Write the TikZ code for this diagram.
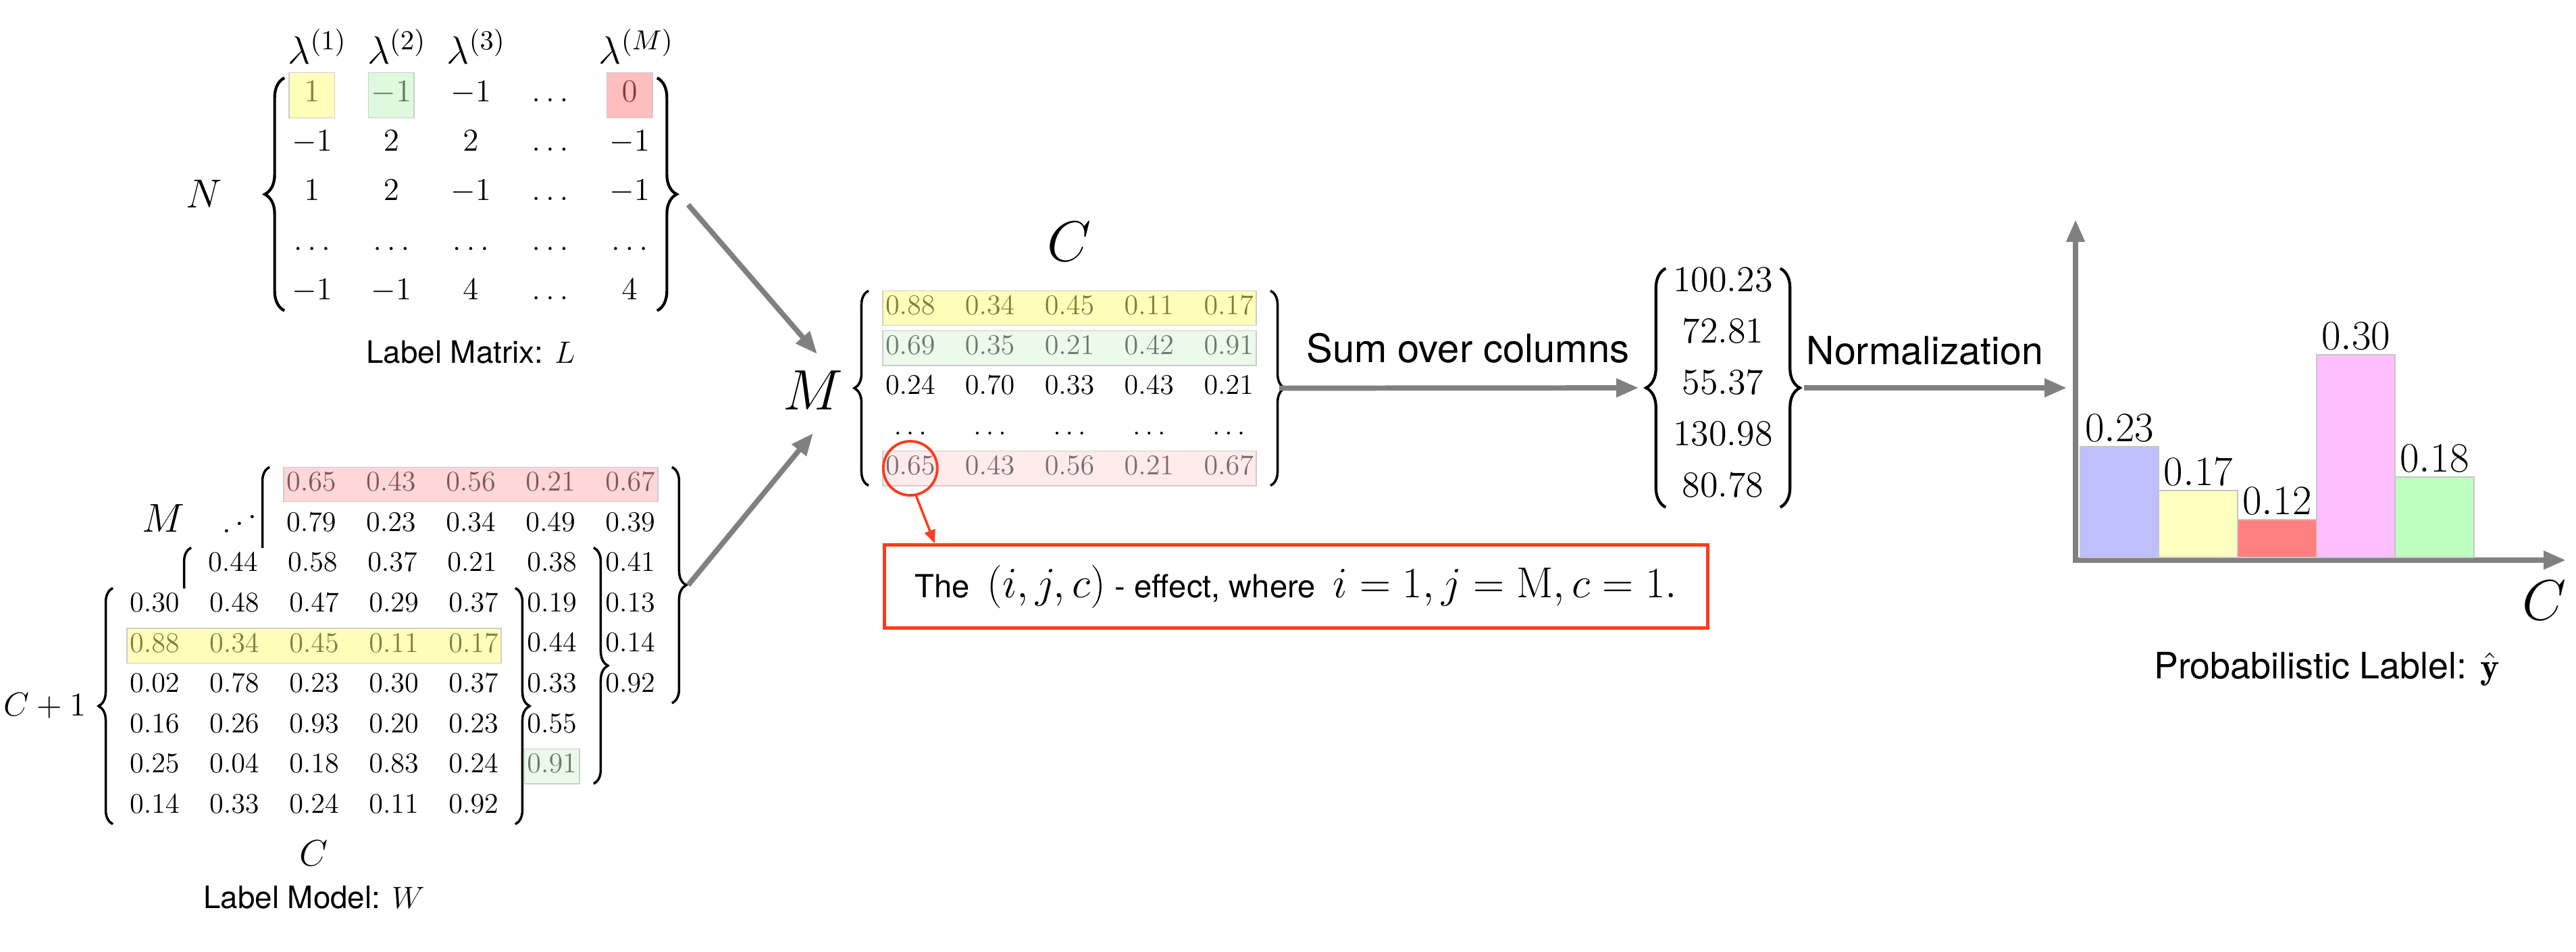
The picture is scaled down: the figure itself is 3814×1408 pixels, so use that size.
\RequirePackage{fix-cm}
\documentclass[tikz,border=0pt]{standalone}
\usepackage{fontspec}
\setsansfont{TeX Gyre Heros}
\usepackage{graphicx}
\usetikzlibrary{matrix, positioning, fit, arrows.meta, decorations.pathreplacing}

\definecolor{hlyellow}{RGB}{255,255,120}
\definecolor{hlgreen}{RGB}{190,245,190}
\definecolor{hlmint}{RGB}{215,245,215}
\definecolor{hlred}{RGB}{255,125,125}
\definecolor{hlrose}{RGB}{255,175,175}
\definecolor{hlblush}{RGB}{255,215,215}
\definecolor{effred}{RGB}{250,60,30}
\definecolor{barblue}{RGB}{191,191,255}
\definecolor{baryellow}{RGB}{255,255,192}
\definecolor{barred}{RGB}{255,128,128}
\definecolor{barpink}{RGB}{255,191,255}
\definecolor{bargreen}{RGB}{191,255,191}

\newcommand{\fsz}[1]{\fontsize{#1}{#1}\selectfont}

\tikzstyle{flow} = [draw=gray, line width=2.2pt, >={Triangle[length=0.33cm, width=0.26cm]}]
\tikzstyle{redline} = [draw=effred, line width=1pt, >={Triangle[length=0.2cm, width=0.16cm]}]
\tikzstyle{hl} = [draw=gray!40, line width=0.4pt, fill opacity=0.5, inner sep=0pt]
\tikzstyle{curl} = [decorate, decoration={brace, amplitude=0.21cm}, line width=1pt]
\tikzstyle{bigcurl} = [decorate, decoration={brace, amplitude=0.29cm}, line width=1.2pt]
\tikzstyle{mat} = [matrix of math nodes, inner sep=0pt]
\tikzstyle{wmat} = [mat, font=\fsz{12}, row sep=0.096cm, column sep=0.38cm, nodes={anchor=center, text height=1.5ex, text depth=0.25ex, minimum width=0.8cm, minimum height=0.5cm}]
\tikzstyle{word} = [font=\fsz{13}\sffamily, inner sep=0pt]
\tikzstyle{sym} = [inner sep=0pt]
\tikzstyle{bar} = [rectangle, draw=gray!45, line width=0.5pt, minimum width=1.165cm, anchor=south west, inner sep=0pt, outer sep=0pt]
\tikzstyle{barval} = [font=\fsz{17.6}, inner sep=0pt]
\tikzstyle{effbox} = [rectangle, draw=effred, line width=1.4pt, minimum width=12.18cm, minimum height=1.23cm, inner sep=0pt, font=\fsz{13.4}\sffamily]

\begin{document}
\begin{tikzpicture}[x=0.01cm, y=-0.01cm]
\useasboundingbox (0,0) rectangle (3814,1408);

% label matrix
\matrix (L) [mat, font=\fsz{13.4}, row sep=0.0725cm, column sep=0.515cm, nodes={anchor=center, text height=1.5ex, text depth=0.25ex, minimum width=0.66cm, minimum height=0.66cm}] at (697,287.5) {
  1 & -1 & -1 & \dots & 0 \\
  -1 & 2 & 2 & \dots & -1 \\
  1 & 2 & -1 & \dots & -1 \\
  \dots & \dots & \dots & \dots & \dots \\
  -1 & -1 & 4 & \dots & 4 \\
};
\draw [bigcurl] ([shift={(-7,-8)}]L.south west) -- ([shift={(-7,8)}]L.north west);
\draw [bigcurl] ([shift={(7,8)}]L.north east) -- ([shift={(7,-8)}]L.south east);
\node [hl, fill=hlyellow, fit=(L-1-1)] {};
\node [hl, fill=hlgreen, fit=(L-1-2)] {};
\node [hl, fill=hlred, fit=(L-1-5)] {};
\node (lam1) [sym, font=\fsz{16.5}, above=0.12cm of L-1-1, xshift=0.08cm] {$\lambda^{(1)}$};
\node (lam2) [sym, font=\fsz{16.5}, above=0.12cm of L-1-2, xshift=0.08cm] {$\lambda^{(2)}$};
\node (lam3) [sym, font=\fsz{16.5}, above=0.12cm of L-1-3, xshift=0.08cm] {$\lambda^{(3)}$};
\node (lamM) [sym, font=\fsz{16.5}, above=0.12cm of L-1-5, xshift=0.1cm] {$\lambda^{(M)}$};
\node (N) [sym, font=\fsz{17}, left=0.99cm of L] {$N$};
\node (Lcap) [word, below=0.36cm of L] {Label Matrix: $L$};

% label model, stacked
\matrix (Wb) [wmat] at (697,866) {
  0.65 & 0.43 & 0.56 & 0.21 & 0.67 \\
  0.79 & 0.23 & 0.34 & 0.49 & 0.39 \\
  & & & & 0.41 \\
  & & & & 0.13 \\
  & & & & 0.14 \\
  & & & & 0.92 \\
};
\draw [curl] ([xshift=-6]Wb.south west) -- ([xshift=-6]Wb.north west);
\draw [curl] ([xshift=6]Wb.north east) -- ([xshift=6]Wb.south east);
\node [hl, fill=hlrose, fit=(Wb-1-1)(Wb-1-5)] {};
\matrix (Wm) [wmat, fill=white] at (581,985.2) {
  0.44 & 0.58 & 0.37 & 0.21 & 0.38 \\
  & & & & 0.19 \\
  & & & & 0.44 \\
  & & & & 0.33 \\
  & & & & 0.55 \\
  & & & & 0.91 \\
};
\draw [curl] ([xshift=-6]Wm.south west) -- ([xshift=-6]Wm.north west);
\draw [curl] ([xshift=6]Wm.north east) -- ([xshift=6]Wm.south east);
\node [hl, fill=hlmint, fit=(Wm-6-5)] {};
\matrix (Wf) [wmat, fill=white] at (465,1045) {
  0.30 & 0.48 & 0.47 & 0.29 & 0.37 \\
  0.88 & 0.34 & 0.45 & 0.11 & 0.17 \\
  0.02 & 0.78 & 0.23 & 0.30 & 0.37 \\
  0.16 & 0.26 & 0.93 & 0.20 & 0.23 \\
  0.25 & 0.04 & 0.18 & 0.83 & 0.24 \\
  0.14 & 0.33 & 0.24 & 0.11 & 0.92 \\
};
\draw [curl] ([xshift=-6]Wf.south west) -- ([xshift=-6]Wf.north west);
\draw [curl] ([xshift=6]Wf.north east) -- ([xshift=6]Wf.south east);
\node [hl, fill=hlyellow, fit=(Wf-2-1)(Wf-2-5)] {};
\node (Mw) [sym, font=\fsz{17}] at (242,767) {$M$};
\node (stack) [sym, font=\fsz{14}] at (355,765) {\reflectbox{$\ddots$}};
\node (C1) [sym, font=\fsz{14}, left=0.6cm of Wf] {$C+1$};
\node (Cw) [sym, font=\fsz{15.5}, below=0.24cm of Wf] {$C$};
\node (Wcap) [word, below=0.28cm of Cw] {Label Model: $W$};

% combined matrix
\node (Mbig) [sym, font=\fsz{24}] at (1204,578) {$M$};
\coordinate (Lout) at ([shift={(53,15.5)}]L.east);
\coordinate (Wout) at ([shift={(45,0)}]Wb.east);
\coordinate (Min1) at ([shift={(6,-54)}]Mbig.center);
\coordinate (Min2) at ([shift={(0,63)}]Mbig.center);
\draw [flow,->] (Lout) -- (Min1);
\draw [flow,->] (Wout) -- (Min2);

\matrix (Mmat) [wmat, row sep=0.0925cm, column sep=0.378cm] at (1583.5,574.5) {
  0.88 & 0.34 & 0.45 & 0.11 & 0.17 \\
  0.69 & 0.35 & 0.21 & 0.42 & 0.91 \\
  0.24 & 0.70 & 0.33 & 0.43 & 0.21 \\
  \dots & \dots & \dots & \dots & \dots \\
  0.65 & 0.43 & 0.56 & 0.21 & 0.67 \\
};
\draw [curl] ([xshift=-6]Mmat.south west) -- ([xshift=-6]Mmat.north west);
\draw [curl] ([xshift=6]Mmat.north east) -- ([xshift=6]Mmat.south east);
\node [hl, fill=hlyellow, fit=(Mmat-1-1)(Mmat-1-5)] {};
\node [hl, fill=hlmint, fit=(Mmat-2-1)(Mmat-2-5)] {};
\node [hl, fill=hlblush, fit=(Mmat-5-1)(Mmat-5-5)] {};
\node (Ctop) [sym, font=\fsz{24}, above=0.43cm of Mmat] {$C$};
\node (ring) [circle, draw=effred, line width=1.1pt, minimum size=0.8cm, inner sep=0pt] at (Mmat-5-1) {};
\node (effect) [effbox, below right=0.855cm and 0cm of Mmat.south west] {The~~{\fsz{18.2}$(i,j,c)$} - effect, where~~{\fsz{18.2}$i=1, j=\mathrm{M}, c=1.$}};
\draw [redline,->] (ring.-78) -- ([xshift=0.77cm]effect.north west);

% column sums
\matrix (vec) [mat, font=\fsz{15.4}, row sep=0.16cm, nodes={anchor=center, text height=1.5ex, text depth=0.25ex, minimum width=1.56cm, minimum height=0.6cm}] at (2551,574) {
  100.23 \\
  72.81 \\
  55.37 \\
  130.98 \\
  80.78 \\
};
\draw [bigcurl] ([shift={(-6,-6)}]vec.south west) -- ([shift={(-6,6)}]vec.north west);
\draw [bigcurl] ([shift={(6,6)}]vec.north east) -- ([shift={(6,-6)}]vec.south east);
\draw [flow,->] ([xshift=0.34cm]Mmat.east) -- node [word, font=\fsz{16.5}\sffamily, pos=0.525, above=0.33cm] {Sum over columns} ([xshift=-0.46cm]vec.west);

% probabilistic label
\coordinate (origin) at (3073,829);
\coordinate (ytop) at (3073,325);
\coordinate (xend) at (3799,829);
\draw [flow,->,shorten >=0.13cm] ([xshift=0.41cm]vec.east) -- node [word, font=\fsz{16.3}\sffamily, pos=0, anchor=south west, yshift=0.3cm] {Normalization} (origin |- vec.east);
\draw [flow,<->] (ytop) -- (origin) -- (xend);
\node (bar1) [bar, fill=barblue, minimum height=1.64cm] at ([shift={(7,-4)}]origin) {};
\node (bar2) [bar, fill=baryellow, minimum height=0.99cm] at (bar1.south east) {};
\node (bar3) [bar, fill=barred, minimum height=0.56cm] at (bar2.south east) {};
\node (bar4) [bar, fill=barpink, minimum height=3.0cm] at (bar3.south east) {};
\node (bar5) [bar, fill=bargreen, minimum height=1.19cm] at (bar4.south east) {};
\node (v1) [barval, above=0.065cm of bar1] {$0.23$};
\node (v2) [barval, above=0.065cm of bar2] {$0.17$};
\node (v3) [barval, above=0.065cm of bar3] {$0.12$};
\node (v4) [barval, above=0.065cm of bar4] {$0.30$};
\node (v5) [barval, above=0.065cm of bar5] {$0.18$};
\node (Cax) [sym, font=\fsz{24}] at ([shift={(-32,60)}]xend) {$C$};
\node (ycap) [word, font=\fsz{15.3}\sffamily] at (3445,990) {Probabilistic Lablel: $\hat{\mathbf{y}}$};
\end{tikzpicture}
\end{document}
